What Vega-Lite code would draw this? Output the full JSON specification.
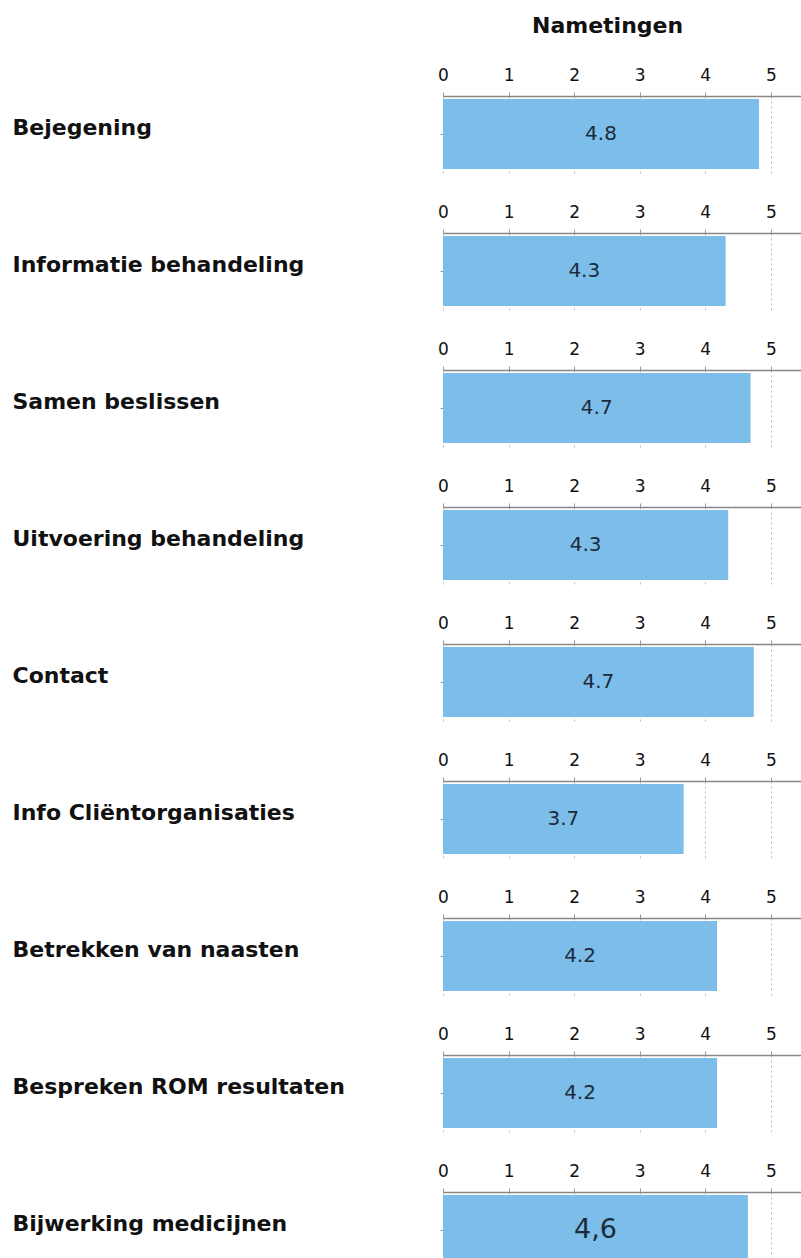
{
  "$schema": "https://vega.github.io/schema/vega-lite/v6.json",
  "padding": {"left": 12, "top": 15, "right": 0, "bottom": 0},
  "background": "white",
  "title": {"text": "Nametingen", "font": "DejaVu Sans", "fontSize": 22, "fontWeight": "bold", "color": "#111111", "anchor": "start", "dx": 520, "offset": 28},
  "data": {"values": [
    {"cat": "Bejegening", "score": 4.82, "label": "4.8"},
    {"cat": "Informatie behandeling", "score": 4.31, "label": "4.3"},
    {"cat": "Samen beslissen", "score": 4.69, "label": "4.7"},
    {"cat": "Uitvoering behandeling", "score": 4.35, "label": "4.3"},
    {"cat": "Contact", "score": 4.74, "label": "4.7"},
    {"cat": "Info Cliëntorganisaties", "score": 3.67, "label": "3.7"},
    {"cat": "Betrekken van naasten", "score": 4.18, "label": "4.2"},
    {"cat": "Bespreken ROM resultaten", "score": 4.18, "label": "4.2"},
    {"cat": "Bijwerking medicijnen", "score": 4.65, "label": "4,6"}
  ]},
  "transform": [{"calculate": "datum.score / 2", "as": "mid"}],
  "facet": {"row": {"field": "cat", "type": "nominal", "header": null,
    "sort": ["Bejegening", "Informatie behandeling", "Samen beslissen", "Uitvoering behandeling", "Contact", "Info Cliëntorganisaties", "Betrekken van naasten", "Bespreken ROM resultaten", "Bijwerking medicijnen"]}},
  "spacing": 27,
  "resolve": {"scale": {"y": "independent"}, "axis": {"x": "independent"}},
  "spec": {
    "width": 358,
    "height": 80,
    "layer": [
      {
        "mark": {"type": "bar", "color": "#7dbde9"},
        "encoding": {
          "x": {"field": "score", "type": "quantitative",
            "scale": {"domain": [0, 5.46], "nice": false, "zero": true},
            "axis": {"orient": "top", "title": null, "values": [0, 1, 2, 3, 4, 5], "format": "d", "grid": true, "gridDash": [2, 3], "gridColor": "#bbbbbb",
              "domainColor": "#888888", "domainWidth": 1.5, "tickColor": "#999999", "tickSize": 4,
              "labelFont": "DejaVu Sans", "labelFontSize": 17, "labelColor": "#111111", "labelPadding": 8, "labelFlush": false}},
          "y": {"field": "cat", "type": "nominal", "sort": null,
            "scale": {"paddingInner": 0, "paddingOuter": 0.0714, "align": 0.3},
            "axis": {"title": null, "labelAlign": "left", "labelPadding": 428, "tickSize": 3, "tickColor": "#999999", "domain": false,
              "labelFont": "DejaVu Sans", "labelFontWeight": "bold", "labelFontSize": 22, "labelColor": "#111111", "labelOffset": -6, "labelLimit": 425}}
        }
      },
      {
        "mark": {"type": "text", "font": "DejaVu Sans", "color": "#1c2b3a", "align": "center", "baseline": "middle"},
        "encoding": {
          "x": {"field": "mid", "type": "quantitative"},
          "y": {"field": "cat", "type": "nominal", "sort": null},
          "text": {"field": "label"},
          "size": {"condition": {"test": "datum.cat === 'Bijwerking medicijnen'", "value": 27}, "value": 20}
        }
      }
    ]
  },
  "config": {"view": {"stroke": null}}
}
